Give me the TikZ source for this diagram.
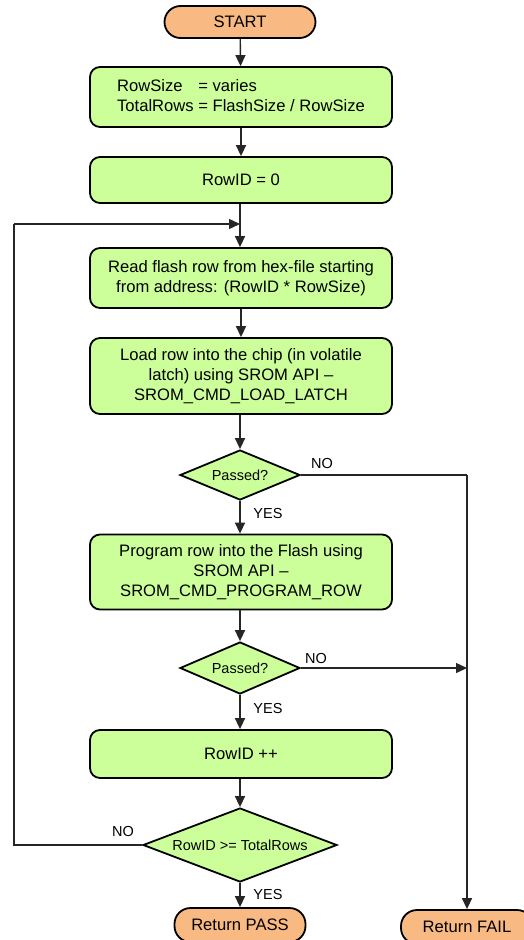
\documentclass[tikz,border=0pt]{standalone}
\usepackage{fontspec}
\setmainfont{Liberation Sans}
\usetikzlibrary{shapes.geometric,arrows.meta}
\definecolor{boxgreen}{RGB}{204,255,153}
\definecolor{termorange}{RGB}{249,185,130}
\tikzset{
  procbox/.style={draw=black, line width=1.8pt, fill=boxgreen, rounded corners=10pt,
    minimum width=302pt, inner sep=0pt, align=center,
    font=\fontsize{16.6}{20}\selectfont},
  termbox/.style={draw=black, line width=1.8pt, fill=termorange, rounded corners=16pt,
    minimum height=32pt, inner sep=0pt, font=\fontsize{16.6}{20}\selectfont},
  decbox/.style={diamond, draw=black, line width=1.8pt, fill=boxgreen, inner sep=0pt,
    aspect=2.5, font=\fontsize{14.5}{17}\selectfont},
  conn/.style={line width=1.4pt, draw=black!85},
  arr/.style={conn, -{Triangle[length=11pt,width=10pt]}},
  lbl/.style={font=\fontsize{14.5}{17}\selectfont, inner sep=0pt},
}
\begin{document}
\begin{tikzpicture}[x=1pt,y=-1pt]
\useasboundingbox (0,0) rectangle (524,940);
\node[termbox, minimum width=151pt] (start) at (240,22) {START};
\node[procbox, minimum height=60pt] (b1) at (241,97) {\begin{tabular}{@{}l@{}l@{}}RowSize & \ = varies\\ TotalRows & \ = FlashSize / RowSize\end{tabular}};
\node[procbox, minimum height=46pt] (b2) at (241,180) {RowID = 0};
\node[procbox, minimum height=60pt] (b3) at (241,278) {Read flash row from hex-file starting\\from address: (RowID * RowSize)};
\node[procbox, minimum height=76pt] (b4) at (241,376) {Load row into the chip (in volatile\\latch) using SROM API --\\SROM\_CMD\_LOAD\_LATCH};
\node[decbox, minimum width=120pt, minimum height=50pt] (d1) at (240,475) {Passed?};
\node[procbox, minimum height=75pt] (b5) at (241,572) {Program row into the Flash using\\SROM API --\\SROM\_CMD\_PROGRAM\_ROW};
\node[decbox, minimum width=120pt, minimum height=52pt] (d2) at (240,668) {Passed?};
\node[procbox, minimum height=48pt] (b6) at (241,754) {RowID ++};
\node[decbox, aspect=2.6, minimum width=194pt, minimum height=74pt] (d3) at (240,845) {RowID >= TotalRows};
\node[termbox, minimum width=131pt, minimum height=34pt] (pass) at (240,925) {Return PASS};
\node[termbox, minimum width=132pt, minimum height=34pt] (fail) at (467,927) {Return FAIL};

\coordinate (lb) at (14,845);
\coordinate (lt) at (14,224);
\coordinate (lj) at (240,224);
\coordinate (f1) at (467,475);
\coordinate (f2) at (467,668);

\draw[arr] (start) -- (b1);
\draw[arr] (b1) -- (b2);
\draw[arr] (b2.south -| lj) -- (lj |- b3.north);
\draw[arr] (b3) -- (b4);
\draw[arr] (b4.south -| d1) -- (d1.north);
\draw[arr] (d1.south) -- (d1.south |- b5.north);
\draw[arr] (b5.south -| d2) -- (d2.north);
\draw[arr] (d2.south) -- (d2.south |- b6.north);
\draw[arr] (b6.south -| d3) -- (d3.north);
\draw[arr] (d3.south) -- (pass.north);
\draw[conn] (d3.west) -- (lb) -- (lt);
\draw[arr] (lt) -- (lj);
\draw[conn] (d1.east) -- (f1);
\draw[arr] (f1) -- (fail.north);
\draw[arr] (d2.east) -- (f2);

\node[lbl] (no1) at (322,464) {NO};
\node[lbl] (yes1) at (268,514) {YES};
\node[lbl] (no2) at (316,658) {NO};
\node[lbl] (yes2) at (268,708) {YES};
\node[lbl] (no3) at (123,831) {NO};
\node[lbl] (yes3) at (268,894) {YES};
\end{tikzpicture}
\end{document}
